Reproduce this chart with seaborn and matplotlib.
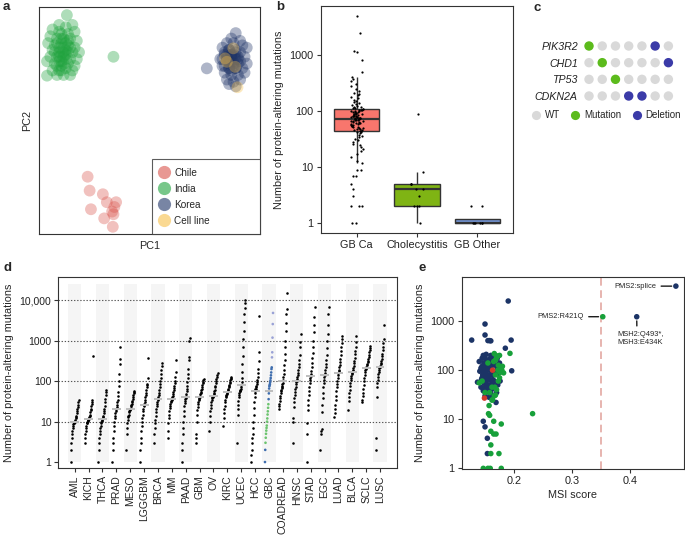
import numpy as np
import pandas as pd
import matplotlib
matplotlib.use("Agg")
import matplotlib.pyplot as plt
import seaborn as sns
from matplotlib.ticker import FixedLocator, FixedFormatter, NullLocator
from matplotlib.lines import Line2D

# ---------------- data ----------------
# panel a: PCA (arbitrary PC units)
chile_pc1 = [21.9, 22.8, 28.8, 23.4, 30.6, 34.8, 33.6, 29.4, 33.3, 33.0, 34.0]
chile_pc2 = [25.3, 19.2, 17.6, 11.0, 14.1, 14.1, 8.8, 7.0, 3.3, 10.0, 12.0]
india_pc1 = [12.5, 9, 12, 15, 6, 9, 13, 16, 5, 8, 11, 14, 17, 4, 7, 10, 13, 16, 6, 9, 12, 15, 18, 5, 8,
             11, 14, 17, 3.5, 7, 10, 13, 16, 3.5, 6, 9, 12, 15, 8, 11, 14, 10, 11, 12, 9, 13, 10, 33.6,
             8, 10, 12, 9, 11, 13, 7, 10, 12, 9, 11, 14, 8, 10]
india_pc2 = [96.3, 92, 91, 92, 90, 89, 88, 89, 87, 86, 86, 86, 85, 84, 83, 84, 83, 82, 81, 80, 81, 80, 80, 78, 78,
             78, 77, 77, 76, 75, 76, 75, 74, 69.7, 72, 72, 73, 72, 70, 70, 70, 88, 82, 79, 76, 80, 74, 78.0,
             84, 86, 84, 82, 80, 85, 80, 79, 77, 78, 75, 82, 74, 72]
korea_pc1 = [89, 87, 91, 85, 88, 92, 94, 83, 86, 89, 91, 84, 87, 90, 93, 82, 85, 88, 91, 94, 83, 86, 89, 92,
             84, 87, 90, 93, 85, 88, 91, 86, 89, 75.9, 87, 89, 86, 88, 90, 85,
             84, 86, 88, 85, 87, 89, 86, 88, 84, 86, 90, 87, 85, 89, 83]
korea_pc2 = [88.4, 86, 85, 84, 84, 83, 82, 82, 81, 81, 80, 79, 79, 78, 78, 77, 76, 76, 76, 75, 74, 73, 73, 73,
             71, 70, 70, 71, 68, 67, 68, 66, 65, 72.9, 78, 77, 75, 74, 75, 78,
             80, 81, 79, 77, 79, 80, 76, 75, 74, 73, 77, 72, 79, 73, 77]
cell_pc1 = [87.9, 84.2, 88.7, 85.0, 89.8]
cell_pc2 = [81.7, 77.3, 73.6, 75.8, 64.6]
pca_groups = ["Chile", "India", "Korea", "Cell line"]
pca_colors = ["#D9534B", "#1FA33D", "#1F3467", "#F7C04A"]

# panel b: protein-altering mutations per group
gbca_counts = [5000, 2500, 1200, 1150, 810, 500, 410,
               370, 340, 300, 280, 250, 230, 210, 200, 190, 180, 170, 160, 150, 145, 140, 135, 130, 125, 120,
               118, 115, 112, 110, 108, 106,
               105, 103, 101, 100, 98, 97, 96, 95, 93, 92, 90, 89, 88, 87, 85, 84, 83, 82, 81, 80, 79, 78, 77,
               76, 75, 74, 74, 73, 72, 72,
               71, 70, 69, 68, 67, 66, 65, 64, 63, 62, 61, 60, 59, 58, 57, 56, 55, 54, 53, 52, 51, 50, 49, 48,
               47, 46, 45, 44, 44, 43,
               42, 40, 38, 36, 34, 32, 30, 28, 26, 25, 23, 21, 19, 17, 15, 13, 12,
               8.8, 8.9, 6.9, 4.1, 3, 2, 2, 2, 1, 1, 5, 7]
chole_counts = [1, 2, 2, 2, 3, 4, 4, 5, 5, 5, 8, 90]
gbother_counts = [1, 1, 1, 1, 1, 1, 2, 2]
box_groups = ["GB Ca", "Cholecystitis", "GB Other"]
box_colors = ["#F8766D", "#7FB414", "#7394D3"]

# panel c: alteration matrix
genes = ["PIK3R2", "CHD1", "TP53", "CDKN2A"]
pik3r2_status = ["Mutation", "WT", "WT", "WT", "WT", "Deletion", "WT"]
chd1_status = ["WT", "Mutation", "WT", "WT", "WT", "WT", "Deletion"]
tp53_status = ["WT", "WT", "Mutation", "WT", "WT", "WT", "WT"]
cdkn2a_status = ["WT", "WT", "WT", "Deletion", "Deletion", "WT", "WT"]
status_levels = ["WT", "Mutation", "Deletion"]
status_colors = ["#D9D9D9", "#5CBB1C", "#3B3BA8"]

# panel d: pan-cancer mutation burden (sorted values per cancer type)
cancer_types = ["AML", "KICH", "THCA", "PRAD", "MESO", "LGGGBM", "BRCA", "MM", "PAAD", "GBM", "OV", "KIRC",
                "UCEC", "HCC", "GBC", "COADREAD", "HNSC", "STAD", "EGC", "LUAD", "BLCA", "SCLC", "LUSC"]
aml = [1, 2, 3, 4, 5, 6, 7, 8, 8.5, 9, 9.3, 9.6, 10, 10.5, 11, 12, 13, 14, 16, 18, 20, 23, 26, 30, 34]
kich = [3, 4, 5, 6, 7, 8, 9, 9.5, 10, 10.5, 10.8, 11, 11.5, 12, 13, 14, 15, 17, 19, 21, 24, 27, 30, 34, 425]
thca = [1, 2, 3, 4, 5, 6, 7, 8, 9, 10, 10.5, 11, 11.5, 12, 13, 14, 16, 18, 21, 25, 30, 36, 45, 55, 61]
prad = [1, 2, 3, 4, 6, 8, 10, 12, 14, 16, 18, 20, 21, 23, 26, 30, 35, 42, 55, 75, 100, 150, 270, 355, 720]
meso = [2, 5, 7, 9, 11, 13, 14, 15, 17, 18, 19, 20, 21, 22, 24, 26, 28, 30, 33, 36, 40, 45, 50, 53, 56]
lgggbm = [1, 2, 3, 4, 6, 8, 10, 12, 15, 18, 21, 24, 26, 28, 31, 35, 40, 45, 52, 60, 70, 80, 86, 120, 370]
brca = [3, 5, 7, 9, 11, 14, 17, 20, 24, 28, 31, 34, 36, 40, 45, 52, 60, 70, 85, 100, 120, 150, 190, 240, 290]
mm = [4, 6, 9, 12, 15, 18, 22, 25, 28, 31, 33, 34, 36, 40, 44, 48, 53, 60, 68, 78, 90, 100, 125, 170, 345]
paad = [1, 2, 3, 5, 7, 10, 14, 18, 24, 29, 33, 36, 38, 42, 48, 56, 65, 78, 95, 120, 150, 200, 340, 400, 1000, 1200]
gbm = [3, 4, 5, 10, 15, 19, 23, 27, 31, 35, 37, 39, 41, 44, 47, 51, 55, 60, 66, 73, 80, 88, 97, 106, 115]
ov = [6, 10, 14, 18, 22, 26, 30, 34, 38, 40, 41, 42, 44, 47, 51, 56, 62, 70, 78, 88, 100, 115, 130, 145, 158]
kirc = [8, 12, 16, 20, 25, 30, 35, 40, 44, 46, 48, 50, 53, 56, 60, 65, 70, 76, 83, 90, 98, 106, 115, 122, 130]
ucec = [3, 15, 20, 26, 33, 40, 46, 52, 56, 58, 60, 64, 70, 80, 95, 120, 170, 260, 420, 700, 1100, 1800, 3000,
        4600, 6500, 8500, 10000]
hcc = [1, 1.5, 2, 3, 4, 5, 7, 10, 15, 22, 30, 40, 50, 58, 63, 66, 70, 76, 84, 95, 110, 130, 160, 200, 325, 520, 4200]
gbc = [1, 2, 3, 4, 5, 6, 7, 8, 10, 12, 15, 18, 22, 27, 36, 50, 66, 75, 80, 85, 95, 105, 120, 140, 165, 200, 220,
       390, 520, 1200, 2600, 4900]
gbc_cohort = ["Korea", "Korea"] + ["India"] * 12 + ["Korea"] * 13 + ["Other"] * 5
coadread = [20, 24, 28, 33, 38, 44, 50, 56, 62, 68, 73, 78, 84, 92, 105, 125, 150, 190, 250, 340, 480, 700, 1000,
            1800, 2800, 4600, 6200, 15000]
hnsc = [3, 10, 12, 23, 30, 38, 46, 55, 64, 74, 84, 95, 104, 114, 125, 140, 160, 185, 220, 270, 340, 450, 700, 930, 1500]
stad = [1, 5, 9, 19, 26, 35, 45, 58, 72, 88, 105, 120, 135, 155, 180, 220, 280, 370, 500, 700, 1000, 1650, 2500,
        4000, 7000]
egc = [2, 5, 6, 6.5, 17, 26, 38, 52, 70, 90, 110, 130, 144, 160, 185, 220, 270, 340, 450, 650, 1000, 1500, 2500,
       4500, 7000]
luad = [13, 16, 20, 26, 34, 44, 56, 70, 86, 104, 122, 140, 158, 175, 195, 220, 255, 300, 360, 440, 550, 700, 900,
        1100, 1350]
blca = [19, 33, 40, 50, 62, 75, 90, 105, 120, 135, 150, 160, 167, 178, 195, 215, 240, 275, 320, 380, 460, 560, 700,
        950, 1300]
sclc = [30, 35, 42, 52, 65, 80, 100, 120, 145, 165, 185, 200, 215, 230, 250, 270, 295, 325, 360, 400, 450, 520, 600,
        680, 760]
lusc = [2, 4, 40, 70, 90, 110, 130, 150, 170, 190, 210, 222, 230, 245, 265, 290, 320, 360, 410, 480, 580, 720, 900,
        1100, 2500]
cancer_values = [aml, kich, thca, prad, meso, lgggbm, brca, mm, paad, gbm, ov, kirc, ucec, hcc, gbc, coadread,
                 hnsc, stad, egc, luad, blca, sclc, lusc]
gbc_colors = {"India": "#6CC46F", "Korea": "#3E6DAE", "Other": "#9AA2D6"}

# panel e: MSI score vs mutations
korea_msi = [0.127, 0.150, 0.150, 0.155, 0.158, 0.190, 0.195, 0.185, 0.196, 0.160,
             0.145, 0.150, 0.158, 0.165, 0.140, 0.148, 0.155, 0.162, 0.170, 0.175,
             0.143, 0.150, 0.155, 0.160, 0.168, 0.147, 0.152, 0.158, 0.163, 0.172,
             0.145, 0.150, 0.155, 0.160, 0.166, 0.137, 0.148, 0.153, 0.158, 0.165,
             0.150, 0.155, 0.161, 0.147, 0.153, 0.160, 0.170, 0.150, 0.157, 0.169,
             0.145, 0.152, 0.157, 0.146, 0.156, 0.162, 0.149, 0.164, 0.154, 0.160,
             0.152, 0.147, 0.176, 0.172, 0.141, 0.143, 0.154, 0.154, 0.150, 0.147,
             0.163, 0.167, 0.151, 0.159, 0.171, 0.144, 0.171, 0.160, 0.164, 0.160,
             0.479, 0.4115]
korea_mut = [410, 870, 520, 400, 400, 2560, 410, 280, 97, 395,
             175, 175, 170, 170, 150, 140, 130, 125, 120, 140,
             110, 105, 100, 100, 95, 90, 85, 80, 78, 85,
             70, 68, 65, 62, 60, 57, 55, 52, 50, 48,
             45, 42, 40, 38, 36, 34, 35, 30, 28, 22,
             120, 115, 110, 80, 75, 90, 60, 55, 150, 200,
             210, 200, 60, 50, 95, 45, 2, 4.1, 7, 9.1,
             150, 130, 125, 140, 100, 65, 173, 117, 63, 31,
             5150, 1225]
india_msi = [0.147, 0.155, 0.159, 0.178, 0.160, 0.174, 0.160, 0.160, 0.165, 0.169, 0.165, 0.178, 0.156, 0.158,
             0.232, 0.157, 0.168, 0.193, 0.170, 0.175, 0.165, 0.172, 0.178, 0.180, 0.168, 0.175, 0.140, 0.162,
             0.170, 0.158, 0.166, 0.173, 0.176, 0.163, 0.155, 0.145, 0.150, 0.171, 0.168, 0.166, 0.173, 0.179,
             0.182, 0.167, 0.162, 0.353]
india_mut = [1, 1, 1, 1, 2, 2, 3, 5.7, 5, 5, 9.1, 8, 13, 12,
             13, 19, 31, 220, 180, 200, 150, 100, 110, 120, 80, 70, 55, 45,
             40, 35, 30, 60, 90, 25, 140, 60, 35, 195, 160, 218, 126, 100,
             88, 45, 24.5, 1225]
chile_msi = [0.149, 0.163]
chile_mut = [27, 100]
msi_groups = ["Chile", "India", "Korea"]
msi_colors = ["#D2382B", "#17A03A", "#1C3466"]
msi_threshold = 0.35
annotations = [("PMS2:splice", 0.479, 5150), ("PMS2:R421Q", 0.353, 1225), ("MSH2:Q493*,\nMSH3:E434K", 0.4115, 1225)]

# ---------------- style ----------------
sns.set_theme(style="white")
plt.rcParams["font.family"] = ["Liberation Sans", "DejaVu Sans"]
plt.rcParams["axes.linewidth"] = 0.8
plt.rcParams["axes.edgecolor"] = "#333333"
TICK = 7.8
LAB = 7.8
W, H = 685, 538
fig = plt.figure(figsize=(6.85, 5.38), dpi=100)


def rect(x0, y0, x1, y1):
    return [x0 / W, 1 - y1 / H, (x1 - x0) / W, (y1 - y0) / H]


def style_ticks(ax):
    ax.tick_params(axis="both", which="major", direction="out", length=3, width=0.8, color="#333333",
                   labelsize=TICK, labelcolor="#222222", pad=2, bottom=True, left=True)
    ax.tick_params(which="minor", length=0)


# ---------------- a ----------------
axA = fig.add_axes(rect(39.3, 6.7, 260, 234.3))
dfA = pd.DataFrame({
    "PC1": chile_pc1 + india_pc1 + korea_pc1 + cell_pc1,
    "PC2": chile_pc2 + india_pc2 + korea_pc2 + cell_pc2,
    "Group": ["Chile"] * len(chile_pc1) + ["India"] * len(india_pc1) + ["Korea"] * len(korea_pc1)
             + ["Cell line"] * len(cell_pc1)})
sns.scatterplot(data=dfA, x="PC1", y="PC2", hue="Group", hue_order=pca_groups, palette=pca_colors,
                s=72, alpha=0.36, linewidth=0, ax=axA, legend=False)
axA.set_xlim(0, 100)
axA.set_ylim(0, 100)
axA.set_xticks([])
axA.set_yticks([])
axA.set_xlabel("PC1", fontsize=LAB, labelpad=5)
axA.set_ylabel("PC2", fontsize=LAB, labelpad=5)
hA = [Line2D([0], [0], marker="o", ls="", markersize=9.5, markerfacecolor=c, markeredgewidth=0, alpha=0.6)
      for c in pca_colors]
legA = axA.legend(hA, pca_groups, loc="lower left", bbox_to_anchor=(0.512, 0.0, 0.488, 0.3), mode="expand",
                  borderaxespad=0, frameon=True, fancybox=False, fontsize=7.2, handlelength=0.6,
                  handletextpad=0.75, labelspacing=0.6, borderpad=0.85)
legA.get_frame().set_edgecolor("#333333")
legA.get_frame().set_linewidth(0.8)
fig.text(3 / W, 1 - 1 / H, "a", fontsize=9.5, fontweight="bold", va="top", ha="left")

# ---------------- b ----------------
axB = fig.add_axes(rect(320.7, 6, 513.3, 233.3))
dfB = pd.DataFrame({
    "group": ["GB Ca"] * len(gbca_counts) + ["Cholecystitis"] * len(chole_counts) + ["GB Other"] * len(gbother_counts),
    "n": gbca_counts + chole_counts + gbother_counts})
sns.boxplot(data=dfB, x="group", y="n", hue="group", order=box_groups, hue_order=box_groups, palette=box_colors,
            width=0.75, showfliers=False, linecolor="#333333", linewidth=1.0, log_scale=True, legend=False,
            ax=axB, saturation=1, capprops={"visible": False},
            medianprops={"color": "#333333", "linewidth": 1.6})
np.random.seed(3)
sns.stripplot(data=dfB, x="group", y="n", order=box_groups, color="black", size=1.6, jitter=0.11,
              linewidth=0, ax=axB, zorder=4)
axB.set_xlim(-0.6, 2.6)
axB.set_ylim(0.655, 7500)
axB.yaxis.set_major_locator(FixedLocator([1, 10, 100, 1000]))
axB.yaxis.set_major_formatter(FixedFormatter(["1", "10", "100", "1000"]))
axB.yaxis.set_minor_locator(NullLocator())
axB.set_xlabel("")
axB.set_ylabel("Number of protein-altering mutations", fontsize=LAB, labelpad=4)
style_ticks(axB)
for s in axB.spines.values():
    s.set_visible(True)
fig.text(276 / W, 1 - 1 / H, "b", fontsize=9.5, fontweight="bold", va="top", ha="left")

# ---------------- c ----------------
axC = fig.add_axes(rect(582, 38, 675, 104))
status_rows = [pik3r2_status, chd1_status, tp53_status, cdkn2a_status]
dfC = pd.DataFrame({
    "sample": [j for row in status_rows for j in range(len(row))],
    "gene": [g for g, row in zip(genes, status_rows) for _ in row],
    "status": [s for row in status_rows for s in row]})
dfC["row"] = dfC["gene"].map({g: i for i, g in enumerate(genes)})
sns.scatterplot(data=dfC, x="sample", y="row", hue="status", hue_order=status_levels, palette=status_colors,
                s=46, linewidth=0, ax=axC, legend=False)
axC.set_xlim(-0.53, 6.5)
axC.set_ylim(3.48, -0.48)
axC.set_yticks(range(len(genes)))
axC.set_yticklabels(genes, fontstyle="italic", fontsize=7.7, color="#222222")
axC.set_xticks([])
axC.tick_params(axis="y", length=0, pad=3)
axC.set_xlabel("")
axC.set_ylabel("")
for s in axC.spines.values():
    s.set_visible(False)
hC = [Line2D([0], [0], marker="o", ls="", markersize=6.6, markerfacecolor=c, markeredgewidth=0)
      for c in status_colors]
fig.legend(hC, status_levels, loc="upper left", bbox_to_anchor=(532 / W, 1 - 110 / H), ncol=3, frameon=False,
           fontsize=7, handlelength=0.8, handletextpad=0.5, columnspacing=1.2, borderpad=0, borderaxespad=0)
fig.text(533 / W, 1 - 2 / H, "c", fontsize=9.5, fontweight="bold", va="top", ha="left")

# ---------------- d ----------------
axD = fig.add_axes(rect(58.3, 277, 396.7, 468.3))
axD.set_yscale("log")
even_idx = [i for i in range(len(cancer_types)) if i % 2 == 0]
axD.bar(even_idx, [25700 - 1] * len(even_idx), bottom=1, width=0.95, color="#F5F5F5", zorder=0, linewidth=0)
for gy in [10, 100, 1000, 10000]:
    axD.axhline(gy, color="#555555", lw=0.8, ls=(0, (1.2, 1.6)), zorder=1)
rows = []
for i, (ct, vals) in enumerate(zip(cancer_types, cancer_values)):
    v = np.sort(np.asarray(vals, dtype=float))
    n = len(v)
    xs = i + (np.arange(n) / (n - 1) - 0.5) * 0.58
    cols = gbc_cohort if ct == "GBC" else ["All"] * n
    for xx, vv, cc in zip(xs, v, cols):
        rows.append((ct, xx, vv, cc))
dfD = pd.DataFrame(rows, columns=["type", "x", "n", "cohort"])
sns.scatterplot(data=dfD[dfD["cohort"] == "All"], x="x", y="n", color="black", s=3.4, linewidth=0, ax=axD,
                zorder=3)
sns.scatterplot(data=dfD[dfD["cohort"] != "All"], x="x", y="n", hue="cohort", palette=gbc_colors, s=3.6,
                linewidth=0, ax=axD, zorder=3, legend=False)
meds = [np.median(v) for v in cancer_values]
axD.hlines(meds, np.arange(len(meds)) - 0.32, np.arange(len(meds)) + 0.32, colors="#BDBDBD", lw=1.4, zorder=4)
axD.set_xlim(-1.18, len(cancer_types) - 1 + 1.2)
axD.set_ylim(0.7, 38000)
axD.yaxis.set_major_locator(FixedLocator([1, 10, 100, 1000, 10000]))
axD.yaxis.set_major_formatter(FixedFormatter(["1", "10", "100", "1000", "10,000"]))
axD.yaxis.set_minor_locator(NullLocator())
axD.set_xticks(range(len(cancer_types)))
axD.set_xticklabels(cancer_types, rotation=90, fontsize=7.5)
for lab in axD.get_xticklabels():
    if lab.get_text() == "GBC":
        lab.set_color("#E5412D")
axD.set_xlabel("")
axD.set_ylabel("Number of protein-altering mutations", fontsize=LAB, labelpad=4)
style_ticks(axD)
axD.tick_params(axis="x", labelsize=7.5)
axD.tick_params(axis="y", labelsize=7.5)
fig.text(3 / W, 1 - 262 / H, "d", fontsize=9.5, fontweight="bold", va="top", ha="left")

# ---------------- e ----------------
axE = fig.add_axes(rect(461.7, 277, 684, 469))
dfE = pd.DataFrame({
    "msi": chile_msi + india_msi + korea_msi,
    "n": chile_mut + india_mut + korea_mut,
    "cohort": ["Chile"] * len(chile_msi) + ["India"] * len(india_msi) + ["Korea"] * len(korea_msi)})
axE.set_yscale("log")
axE.axvline(msi_threshold, color="#E0A09A", lw=1.1, ls=(0, (5, 3)), zorder=1)
sns.scatterplot(data=dfE.iloc[::-1], x="msi", y="n", hue="cohort", hue_order=msi_groups, palette=msi_colors,
                s=16, linewidth=0, ax=axE, legend=False, zorder=3)
axE.set_xlim(0.1098, 0.493)
axE.set_ylim(0.97, 7900)
axE.yaxis.set_major_locator(FixedLocator([1, 10, 100, 1000]))
axE.yaxis.set_major_formatter(FixedFormatter(["1", "10", "100", "1000"]))
axE.yaxis.set_minor_locator(NullLocator())
axE.xaxis.set_major_locator(FixedLocator([0.2, 0.3, 0.4]))
axE.xaxis.set_major_formatter(FixedFormatter(["0.2", "0.3", "0.4"]))
axE.set_xlabel("MSI score", fontsize=LAB, labelpad=3)
axE.set_ylabel("Number of protein-altering mutations", fontsize=LAB, labelpad=4)
style_ticks(axE)
arrow = dict(arrowstyle="-", color="black", lw=0.9, shrinkA=1, shrinkB=3)
axE.annotate(annotations[0][0], xy=annotations[0][1:], xytext=(-14, 0), textcoords="offset points",
             ha="right", va="center", fontsize=5.4, arrowprops=arrow)
axE.annotate(annotations[1][0], xy=annotations[1][1:], xytext=(-13.5, 0), textcoords="offset points",
             ha="right", va="center", fontsize=5.4, arrowprops=arrow)
axE.annotate(annotations[2][0], xy=annotations[2][1:], xytext=(2.5, -10), textcoords="offset points",
             ha="center", va="top", fontsize=5.4, linespacing=1.35,
             arrowprops=dict(arrow, relpos=(0.43, 1.0)))
fig.text(418 / W, 1 - 262 / H, "e", fontsize=9.5, fontweight="bold", va="top", ha="left")

fig.savefig("out.png", dpi=100)
